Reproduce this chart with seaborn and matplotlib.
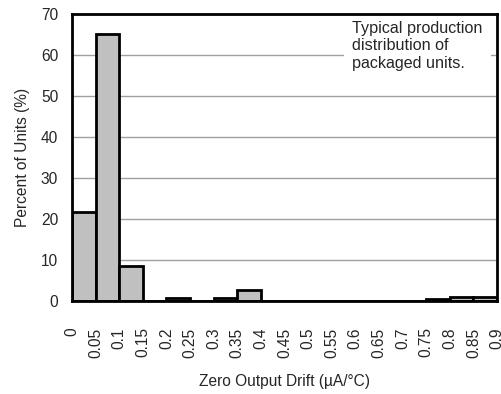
import numpy as np
import pandas as pd
import matplotlib
matplotlib.use("Agg")
import matplotlib.pyplot as plt
import seaborn as sns

# Data
bin_edges = [0, 0.05, 0.1, 0.15, 0.2, 0.25, 0.3, 0.35, 0.4, 0.45, 0.5, 0.55,
             0.6, 0.65, 0.7, 0.75, 0.8, 0.85, 0.9]
percent_units = [21.8, 65.2, 8.6, 0.0, 0.8, 0.0, 0.8, 2.7, 0.0, 0.0, 0.0, 0.0,
                 0.0, 0.0, 0.0, 0.5, 0.9, 0.9]
x_tick_labels = ["0", "0.05", "0.1", "0.15", "0.2", "0.25", "0.3", "0.35", "0.4",
                 "0.45", "0.5", "0.55", "0.6", "0.65", "0.7", "0.75", "0.8",
                 "0.85", "0.9"]
y_ticks = [0, 10, 20, 30, 40, 50, 60, 70]

sns.set_style("white")
plt.rcParams['font.family'] = ['Liberation Sans', 'DejaVu Sans']

df = pd.DataFrame({
    "drift": [(bin_edges[i] + bin_edges[i + 1]) / 2 for i in range(len(percent_units))],
    "pct": percent_units,
})

fs = 11.2

fig = plt.figure(figsize=(5.02, 3.94), dpi=100)
ax = fig.add_axes([72 / 502, 1 - 301 / 394, (497 - 72) / 502, (301 - 14) / 394])

ax.yaxis.grid(True, color="#a0a0a0", linewidth=1.0)
ax.set_axisbelow(True)

sns.histplot(data=df, x="drift", weights="pct", bins=bin_edges, stat="count",
             color="#c0c0c0", edgecolor="black", linewidth=2, alpha=1, ax=ax)

ax.set_xlim(0, 0.9)
ax.set_ylim(0, 70)
ax.set_yticks(y_ticks)
ax.set_yticklabels([str(v) for v in y_ticks], fontsize=fs)
ax.set_xticks(bin_edges)
ax.set_xticklabels(x_tick_labels, rotation=90, fontsize=fs)
ax.tick_params(axis="x", direction="out", length=9, width=0.8, color="#c8c8c8", pad=10)
ax.tick_params(axis="y", length=0, pad=10)

for s in ax.spines.values():
    s.set_visible(True)
    s.set_color("black")
    s.set_linewidth(2)
    s.set_zorder(5)

ax.set_xlabel("Zero Output Drift (µA/°C)", fontsize=fs, labelpad=12)
ax.set_ylabel("Percent of Units (%)", fontsize=fs, labelpad=8)

ax.text(0.593, 68.3, "Typical production\ndistribution of\npackaged units.",
        fontsize=11.6, va="top", ha="left", linespacing=1.2, zorder=3,
        bbox=dict(facecolor="white", edgecolor="none", pad=6))

fig.savefig("out.png", dpi=100)
